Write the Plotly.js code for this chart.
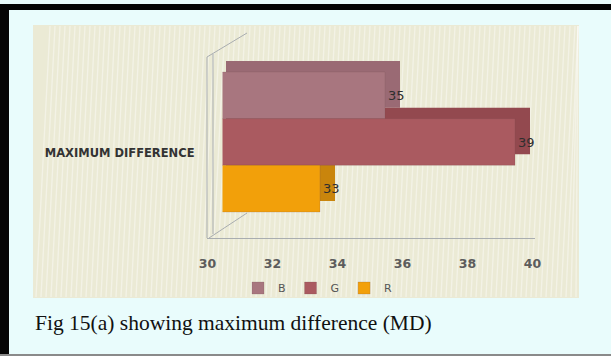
<!DOCTYPE html>
<html>
<head>
<meta charset="utf-8">
<script src="https://cdn.plot.ly/plotly-3.0.1.min.js"></script>
<style>
  html, body { margin: 0; padding: 0; background: #e9fcfc; }
  #chart { width: 611px; height: 356px; }
</style>
</head>
<body>
<div id="chart"></div>
<script>
// Chart data
const categories = ['MAXIMUM DIFFERENCE'];
const seriesNames = ['B', 'G', 'R'];
const seriesValues = [[35], [39], [33]];
const tickValues = [30, 32, 34, 36, 38, 40];

// Face colours (front) and extrusion colours (depth) per series
const frontColors = ['#a8767f', '#aa5a60', '#f2a00a'];
const depthColors = ['#9a6a74', '#93494f', '#c9850c'];

const W = 611, H = 356;
const px = v => v / W;          // pixel -> paper x
const py = v => 1 - v / H;      // pixel -> paper y

// Value scale: 32.5 px per unit on both the front and the depth axes
const unitPx = 32.5;
const depthStartPx = 226;       // depth axis starts a little left of its value-30 point
const depthZeroPx = 237.5;

const traces = [];
// Depth layer: the same bars on a slightly offset pair of axes, drawn first
seriesNames.forEach((name, i) => {
  traces.push({
    type: 'bar', orientation: 'h', name: name,
    x: seriesValues[i], y: categories,
    xaxis: 'x', yaxis: 'y',
    marker: { color: depthColors[i], line: { width: 0 } },
    showlegend: false, hoverinfo: 'skip'
  });
});
// Front faces with value labels
seriesNames.forEach((name, i) => {
  traces.push({
    type: 'bar', orientation: 'h', name: name,
    x: seriesValues[i], y: categories,
    xaxis: 'x2', yaxis: 'y2',
    marker: { color: frontColors[i], line: { width: 0.6, color: 'rgba(120,80,80,0.35)' } },
    text: seriesValues[i].map(String),
    textposition: 'outside',
    cliponaxis: false,
    textfont: { family: 'DejaVu Sans', size: 13, color: '#2e2e2e' }
  });
});

// Background decoration: panel, stripes, wall and floor outline
const shapes = [];
shapes.push({ type: 'rect', xref: 'paper', yref: 'paper', layer: 'below',
  x0: px(33), x1: px(579), y0: py(298), y1: py(25),
  fillcolor: '#ebead5', line: { width: 0 } });
for (let sx = 36; sx < 579; sx += 5) {
  const top = Math.min(sx + 14, 578);
  shapes.push({ type: 'line', xref: 'paper', yref: 'paper', layer: 'below',
    x0: px(sx), y0: py(297), x1: px(top), y1: py(26),
    line: { color: 'rgba(255,255,255,0.4)', width: 1.4 } });
}
const wallLine = { color: '#a9adb0', width: 1 };
shapes.push({ type: 'line', xref: 'paper', yref: 'paper', x0: px(207), y0: py(57), x1: px(247), y1: py(33), line: wallLine, layer: 'below' });
shapes.push({ type: 'line', xref: 'paper', yref: 'paper', x0: px(207), y0: py(57), x1: px(207), y1: py(238), line: wallLine, layer: 'below' });
shapes.push({ type: 'line', xref: 'paper', yref: 'paper', x0: px(213), y0: py(54), x1: px(213), y1: py(234), line: wallLine, layer: 'below' });
shapes.push({ type: 'line', xref: 'paper', yref: 'paper', x0: px(209), y0: py(238), x1: px(247), y1: py(213), line: wallLine, layer: 'below' });
shapes.push({ type: 'line', xref: 'paper', yref: 'paper', x0: px(207), y0: py(238.5), x1: px(535), y1: py(238.5), line: wallLine, layer: 'below' });
// Frame
shapes.push({ type: 'rect', xref: 'paper', yref: 'paper', x0: px(3), x1: px(611), y0: py(10), y1: py(4), fillcolor: '#050505', line: { width: 0 } });
shapes.push({ type: 'rect', xref: 'paper', yref: 'paper', x0: 0, x1: px(9), y0: 0, y1: py(4), fillcolor: '#050505', line: { width: 0 } });
shapes.push({ type: 'rect', xref: 'paper', yref: 'paper', x0: 0, x1: 1, y0: 0, y1: py(354), fillcolor: '#8a8a8a', line: { width: 0 } });

const hiddenAxis = { showgrid: false, zeroline: false, showline: false, showticklabels: false, ticks: '' };

const layout = {
  width: W, height: H,
  margin: { l: 0, r: 0, t: 0, b: 0 },
  paper_bgcolor: '#e9fcfc',
  plot_bgcolor: 'rgba(0,0,0,0)',
  barmode: 'group',
  bargap: 0.239,
  bargroupgap: 0,
  showlegend: true,
  legend: {
    orientation: 'h', x: px(318), xanchor: 'center', y: py(288), yanchor: 'middle',
    bgcolor: 'rgba(0,0,0,0)', font: { family: 'DejaVu Sans', size: 11, color: '#555' },
    itemwidth: 30, tracegroupgap: 0
  },
  title: {
    text: 'Fig 15(a) showing maximum difference (MD)',
    font: { family: 'Liberation Serif', size: 21.5, color: '#111' },
    x: px(35), xanchor: 'left', y: 1 - 322 / H, yanchor: 'middle'
  },
  xaxis: Object.assign({
    domain: [px(depthStartPx), px(562.5)],
    range: [30 - (depthZeroPx - depthStartPx) / unitPx, 40], anchor: 'y'
  }, hiddenAxis),
  yaxis: Object.assign({ domain: [py(223), py(39)], anchor: 'x', autorange: 'reversed', type: 'category' }, hiddenAxis),
  xaxis2: {
    domain: [px(222.5), px(547.5)], range: [30, 40], anchor: 'y2',
    tickvals: tickValues, ticktext: tickValues.map(String),
    showgrid: false, zeroline: false, showline: false, ticks: '',
    ticklabelshift: -15, ticklabelstandoff: 20,
    tickfont: { family: 'DejaVu Sans', size: 12.5, color: '#5c5c5c', weight: 'bold' }
  },
  yaxis2: {
    domain: [py(234), py(50)], anchor: 'x2', autorange: 'reversed', type: 'category',
    showgrid: false, zeroline: false, showline: false, ticks: '',
    ticklabelstandoff: 27, ticklabelshift: -11,
    tickfont: { family: 'DejaVu Sans', size: 11.5, color: '#333', weight: 'bold' }
  },
  shapes: shapes
};

Plotly.newPlot('chart', traces, layout, { displayModeBar: false, staticPlot: true });
</script>
</body>
</html>
